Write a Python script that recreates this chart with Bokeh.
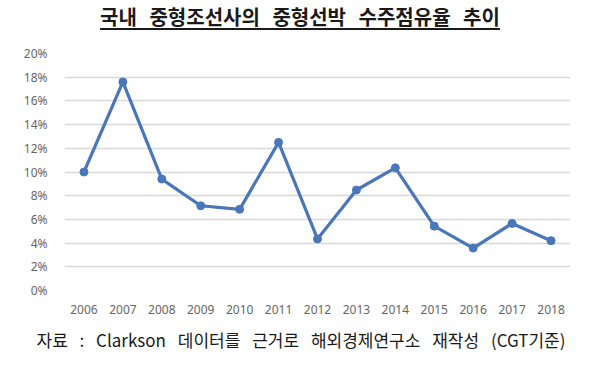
from bokeh.plotting import figure
from bokeh.models import Range1d, Div, NumeralTickFormatter, FixedTicker
from bokeh.layouts import column
from bokeh.embed import file_html
from bokeh.resources import INLINE

years = ["2006", "2007", "2008", "2009", "2010", "2011", "2012",
         "2013", "2014", "2015", "2016", "2017", "2018"]
share = [0.100, 0.176, 0.094, 0.0715, 0.0685, 0.125, 0.0435,
         0.0848, 0.1035, 0.0543, 0.0358, 0.0566, 0.042]
y_ticks = [0.0, 0.02, 0.04, 0.06, 0.08, 0.10, 0.12, 0.14, 0.16, 0.18, 0.20]

title_text = "국내 중형조선사의 중형선박 수주점유율 추이"
source_text = "자료 : Clarkson 데이터를 근거로 해외경제연구소 재작성 (CGT기준)"

W = 600

title = Div(
    text=f'<div style="width:{W}px;text-align:center;font-family:\'Noto Sans CJK KR\';'
         f'font-weight:bold;font-size:20px;line-height:24px;color:#1a1a1a;'
         f'text-decoration:underline;text-underline-offset:3px;word-spacing:8px;'
         f'padding-top:5px;">{title_text}</div>',
    width=W, height=38, margin=0)

p = figure(x_range=years, y_range=Range1d(0, 0.20), width=W, height=282,
           output_backend="svg", toolbar_location=None,
           min_border_left=64, min_border_right=30, min_border_top=15,
           min_border_bottom=30)
p.outline_line_color = None
p.background_fill_color = "white"
p.border_fill_color = "white"

p.line(years, share, line_color="#4a76ba", line_width=3.2)
p.scatter(years, share, size=8, fill_color="#4a76ba", line_color="#4a76ba")

p.yaxis.ticker = FixedTicker(ticks=y_ticks)
p.yaxis.formatter = NumeralTickFormatter(format="0%")
for ax in (p.xaxis, p.yaxis):
    ax.axis_line_color = None
    ax.major_tick_line_color = None
    ax.minor_tick_line_color = None
    ax.major_label_text_font = "Noto Sans"
    ax.major_label_text_font_size = "12px"
    ax.major_label_text_color = "#666666"
p.yaxis.major_label_standoff = 11
p.xaxis.major_label_standoff = 8
p.xgrid.grid_line_color = None
p.ygrid.grid_line_color = "#d9d9d9"
p.ygrid.grid_line_width = 1.3

footer = Div(
    text=f'<div style="width:{W}px;text-align:center;font-family:\'Noto Sans CJK KR\';'
         f'font-size:17px;line-height:20px;color:#1a1a1a;word-spacing:8px;'
         f'padding-top:10px;padding-left:2px;">{source_text}</div>',
    width=W, height=44, margin=0)

layout = column(title, p, footer, spacing=0)
open("out.html", "w").write(file_html(layout, INLINE))
